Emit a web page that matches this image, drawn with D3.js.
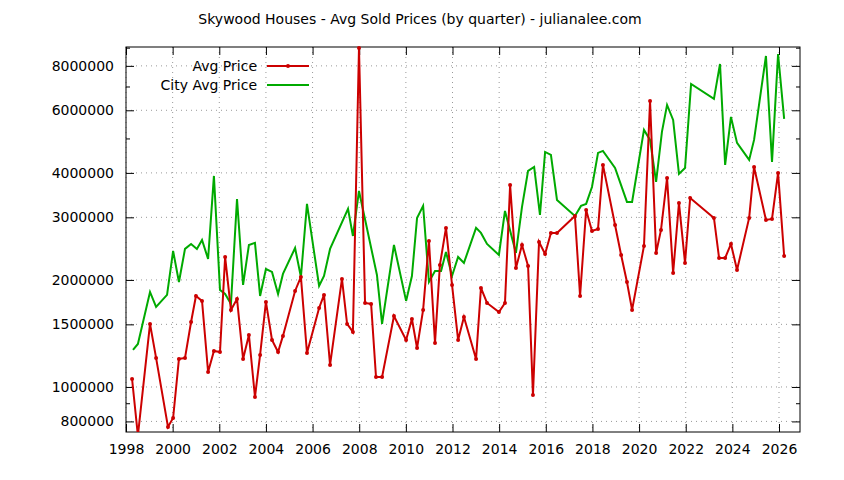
<!DOCTYPE html>
<html><head><meta charset="utf-8">
<script src="https://cdn.jsdelivr.net/npm/d3@7"></script>
<style>body{margin:0;background:#fff}svg{font-family:"DejaVu Sans",sans-serif}</style>
</head><body><svg id="c" width="844" height="480"></svg>
<script>
const avgYears=[1998.26,1998.51,1999.03,1999.29,1999.80,2000.02,2000.27,2000.53,2000.79,2001.00,2001.26,2001.52,2001.77,2002.03,2002.25,2002.50,2002.76,2003.02,2003.27,2003.53,2003.75,2004.00,2004.26,2004.52,2004.73,2005.25,2005.50,2005.76,2006.28,2006.49,2006.75,2007.26,2007.48,2007.73,2007.99,2008.25,2008.51,2008.72,2008.98,2009.49,2010.01,2010.26,2010.48,2010.74,2010.99,2011.25,2011.46,2011.72,2011.98,2012.24,2012.49,2013.01,2013.22,2013.48,2013.99,2014.25,2014.47,2014.72,2014.98,2015.24,2015.45,2015.71,2015.97,2016.22,2016.48,2017.25,2017.47,2017.73,2017.98,2018.24,2018.45,2018.97,2019.23,2019.48,2019.70,2020.21,2020.47,2020.73,2020.94,2021.20,2021.46,2021.71,2021.97,2022.19,2023.21,2023.43,2023.69,2023.94,2024.20,2024.72,2024.93,2025.44,2025.70,2025.96,2026.22];
const avgPrice=[1053000,730000,1504000,1207000,772000,818000,1199000,1207000,1523000,1803000,1746000,1102000,1263000,1254000,2321000,1647000,1768000,1199000,1401000,937000,1230000,1734000,1356000,1254000,1392000,1862000,2039000,1246000,1668000,1815000,1153000,2013000,1504000,1428000,8980000,1723000,1712000,1067000,1067000,1584000,1356000,1553000,1287000,1647000,2575000,1330000,2204000,2801000,1936000,1356000,1573000,1199000,1899000,1723000,1625000,1723000,3700000,2161000,2508000,2190000,949000,2558000,2366000,2712000,2712000,3027000,1803000,3147000,2747000,2783000,4212000,2855000,2351000,1974000,1647000,2492000,6375000,2382000,2765000,3871000,2092000,3293000,2233000,3401000,2988000,2306000,2306000,2525000,2134000,2988000,4157000,2950000,2969000,4000000,2336000];
const cityYears=[1998.30,1998.51,1999.03,1999.29,1999.76,2000.02,2000.27,2000.53,2000.79,2001.04,2001.26,2001.52,2001.77,2002.03,2002.25,2002.50,2002.76,2003.02,2003.27,2003.53,2003.75,2004.00,2004.26,2004.52,2004.73,2005.25,2005.50,2005.76,2006.28,2006.49,2006.75,2007.52,2007.73,2007.99,2008.76,2008.98,2009.49,2010.01,2010.26,2010.48,2010.74,2010.99,2011.25,2011.51,2011.72,2011.98,2012.24,2012.49,2013.01,2013.22,2013.48,2013.99,2014.25,2014.72,2014.98,2015.24,2015.50,2015.75,2015.97,2016.22,2016.48,2017.25,2017.51,2017.73,2017.98,2018.24,2018.45,2018.97,2019.48,2019.70,2020.21,2020.47,2020.73,2020.98,2021.20,2021.46,2021.71,2021.97,2022.23,2023.21,2023.47,2023.69,2023.94,2024.20,2024.72,2024.93,2025.44,2025.70,2025.96,2026.22];
const cityPrice=[1271000,1321000,1850000,1679000,1815000,2413000,1974000,2445000,2525000,2445000,2592000,2291000,3922000,1875000,1826000,1712000,3379000,1936000,2508000,2542000,1803000,2147000,2106000,1826000,2079000,2460000,2039000,3272000,1923000,2052000,2445000,3168000,2659000,3559000,2065000,1504000,2508000,1746000,2052000,2988000,3230000,1974000,2120000,2120000,2398000,2052000,2321000,2233000,2801000,2712000,2525000,2351000,3127000,2382000,3209000,4053000,4157000,3047000,4581000,4494000,3357000,3027000,3230000,3272000,3652000,4552000,4612000,4130000,3314000,3314000,5284000,4953000,3773000,5216000,6212000,5638000,3974000,4130000,7117000,6458000,8100000,4212000,5748000,4858000,4351000,4953000,8530000,4295000,8640000,5675000];
const xTicks=[1998,2000,2002,2004,2006,2008,2010,2012,2014,2016,2018,2020,2022,2024,2026];
const yTicks=[800000,1000000,1500000,2000000,3000000,4000000,6000000,8000000];
const yMinor=[900000,5000000,7000000,9000000];

const svg=d3.select("#c");
const L=126,R=800,T=47,B=432;
const x=d3.scaleLinear().domain([1998,2026.9]).range([L,R]);
const y=d3.scaleLog().domain([747000,9040000]).range([B,T]);
svg.append("text").attr("x",420).attr("y",24).attr("text-anchor","middle").attr("font-size",14).text("Skywood Houses - Avg Sold Prices (by quarter) - julianalee.com");
const g=svg.append("g");
// grid
g.selectAll(".gx").data(xTicks).join("line").attr("x1",d=>x(d)).attr("x2",d=>x(d)).attr("y1",T).attr("y2",B).attr("stroke","#999").attr("stroke-dasharray","1,4");
g.selectAll(".gy").data(yTicks).join("line").attr("y1",d=>y(d)).attr("y2",d=>y(d)).attr("x1",L).attr("x2",R).attr("stroke","#999").attr("stroke-dasharray","1,4");
// axes with inward ticks
const fmt=d3.format("d");
const ax=d3.axisBottom(x).tickValues(xTicks).tickFormat(fmt).tickSizeInner(-8).tickSizeOuter(0).tickPadding(12);
const axT=d3.axisTop(x).tickValues(xTicks).tickFormat("").tickSizeInner(-8).tickSizeOuter(0);
const ay=d3.axisLeft(y).tickValues(yTicks).tickFormat(fmt).tickSizeInner(-8).tickSizeOuter(0).tickPadding(12);
const ayR=d3.axisRight(y).tickValues(yTicks).tickFormat("").tickSizeInner(-8).tickSizeOuter(0);
const ayM=d3.axisLeft(y).tickValues(yMinor).tickFormat("").tickSizeInner(-4).tickSizeOuter(0);
const ayMR=d3.axisRight(y).tickValues(yMinor).tickFormat("").tickSizeInner(-4).tickSizeOuter(0);
[[ax,`translate(0,${B})`],[axT,`translate(0,${T})`],[ay,`translate(${L},0)`],[ayR,`translate(${R},0)`],[ayM,`translate(${L},0)`],[ayMR,`translate(${R},0)`]].forEach(([a,t])=>{
  const s=g.append("g").attr("transform",t).call(a);
  s.select(".domain").remove();
  s.selectAll("text").attr("font-size",14).attr("fill","#000").attr("font-family","DejaVu Sans");
  s.selectAll("line").attr("stroke","#000");
});
g.append("rect").attr("x",L).attr("y",T).attr("width",R-L).attr("height",B-T).attr("fill","none").attr("stroke","#000");
svg.append("clipPath").attr("id","clip").append("rect").attr("x",L).attr("y",T-2).attr("width",R-L).attr("height",B-T+2);
const line=d3.line().x(d=>x(d[0])).y(d=>y(d[1]));
const avg=avgYears.map((d,i)=>[d,avgPrice[i]]);
const city=cityYears.map((d,i)=>[d,cityPrice[i]]);
const pg=svg.append("g").attr("clip-path","url(#clip)");
pg.append("path").datum(city).attr("d",line).attr("fill","none").attr("stroke","#00aa00").attr("stroke-width",2);
pg.append("path").datum(avg).attr("d",line).attr("fill","none").attr("stroke","#cc0000").attr("stroke-width",2);
pg.selectAll(".pt").data(avg).join("circle").attr("cx",d=>x(d[0])).attr("cy",d=>y(d[1])).attr("r",2).attr("fill","#cc0000");
// legend
const lg=svg.append("g");
const items=[["Avg Price","#cc0000",true],["City Avg Price","#00aa00",false]];
items.forEach((it,i)=>{
  const yy=66+i*19;
  lg.append("text").attr("x",257).attr("y",yy+5).attr("text-anchor","end").attr("font-size",14).text(it[0]);
  lg.append("line").attr("x1",267).attr("x2",309).attr("y1",yy).attr("y2",yy).attr("stroke",it[1]).attr("stroke-width",2);
  if(it[2]) lg.append("circle").attr("cx",288).attr("cy",yy).attr("r",2).attr("fill",it[1]);
});
</script></body></html>
